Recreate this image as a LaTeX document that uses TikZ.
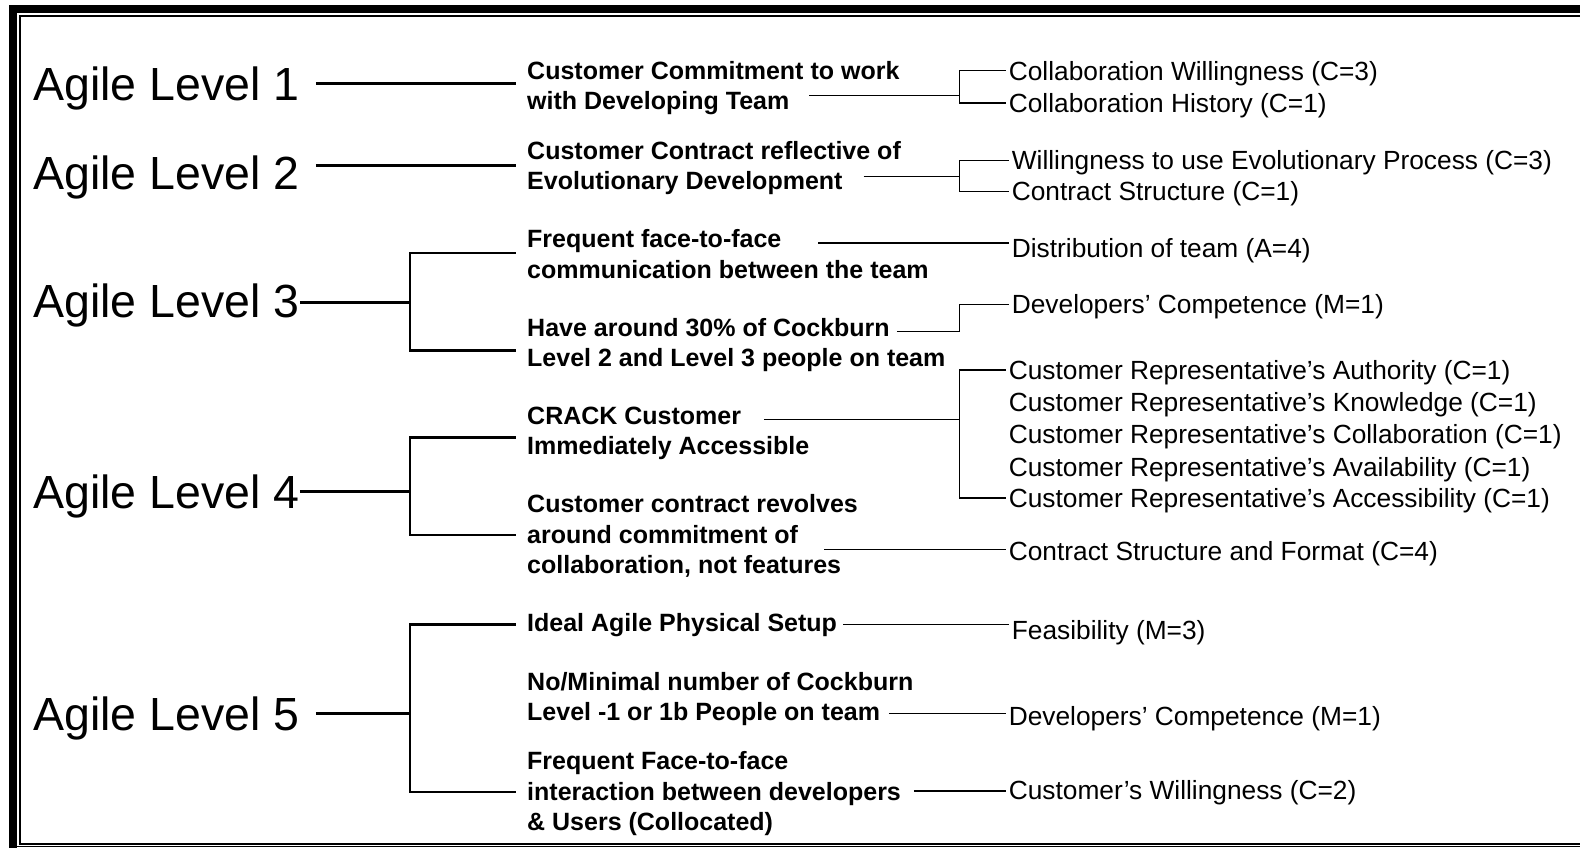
\documentclass[tikz,border=0pt]{standalone}
\usepackage{fontspec}
\setmainfont{Liberation Sans}
\newcommand{\mlines}[1]{\begin{tabular}[t]{@{}l@{}}#1\end{tabular}}
\begin{document}
\begin{tikzpicture}[x=1.0077pt,y=-1.0077pt,
  lvlnode/.style={inner sep=0pt, anchor=base west, font=\fontsize{46.5}{52}\selectfont, text height=33.3pt, text depth=0pt},
  midnode/.style={inner sep=0pt, anchor=base west, font=\fontsize{25}{30.2}\selectfont\bfseries},
  leafnode/.style={inner xsep=3pt, inner ysep=0pt, anchor=base west, font=\fontsize{26.3}{30}\selectfont, text height=18.8pt, text depth=0pt},
  thickline/.style={line width=2.6pt},
  thinline/.style={line width=1.3pt}]
\useasboundingbox (0,0) rectangle (1568,841.5);
% frame
\fill (9,5) rectangle (1568,13);
\fill (9,5) rectangle (16.6,841.5);
\draw[line width=2pt] (1568,15.6) -- (19.85,15.6) -- (19.85,837.3) -- (1568,837.3);
\draw[line width=1.3pt] (16.6,839.9) -- (1568,839.9);

% level labels
\node[lvlnode] (L1) at (33,99.6) {Agile Level 1};
\node[lvlnode] (L2) at (33,187.6) {Agile Level 2};
\node[lvlnode] (L3) at (33,314.6) {Agile Level 3};
\node[lvlnode] (L4) at (33,504.6) {Agile Level 4};
\node[lvlnode] (L5) at (33,724.6) {Agile Level 5};

% middle nodes
\node[midnode] (m1) at (523,79) {\mlines{Customer Commitment to work\\with Developing Team}};
\node[midnode] (m2) at (523,158) {\mlines{Customer Contract reflective of\\Evolutionary Development}};
\node[midnode] (m3) at (523,246) {\mlines{Frequent face-to-face\\communication between the team}};
\node[midnode] (m4) at (523,334) {\mlines{Have around 30\% of Cockburn\\Level 2 and Level 3 people on team}};
\node[midnode] (m5) at (523,421) {\mlines{CRACK Customer\\Immediately Accessible}};
\node[midnode] (m6) at (523,509) {\mlines{Customer contract revolves\\around commitment of\\collaboration, not features}};
\node[midnode] (m7) at (523,627) {\mlines{Ideal Agile Physical Setup}};
\node[midnode] (m8) at (523,685) {\mlines{No/Minimal number of Cockburn\\Level -1 or 1b People on team}};
\node[midnode] (m9) at (523,764) {\mlines{Frequent Face-to-face\\interaction between developers\\\& Users (Collocated)}};

% leaf nodes
\node[leafnode] (r1a) at (998,79.4) {Collaboration Willingness (C=3)};
\node[leafnode] (r1b) at (998,111.4) {Collaboration History (C=1)};
\node[leafnode] (r2a) at (1001,168.4) {Willingness to use Evolutionary Process (C=3)};
\node[leafnode] (r2b) at (1001,199.4) {Contract Structure (C=1)};
\node[leafnode] (r3) at (1001,255.4) {Distribution of team (A=4)};
\node[leafnode] (r4) at (1001,311.4) {Developers’ Competence (M=1)};
\node[leafnode] (r5a) at (998,376.4) {Customer Representative’s Authority (C=1)};
\node[leafnode] (r5b) at (998,408.4) {Customer Representative’s Knowledge (C=1)};
\node[leafnode] (r5c) at (998,440.4) {Customer Representative’s Collaboration (C=1)};
\node[leafnode] (r5d) at (998,472.4) {Customer Representative’s Availability (C=1)};
\node[leafnode] (r5e) at (998,503.4) {Customer Representative’s Accessibility (C=1)};
\node[leafnode] (r6) at (998,556.4) {Contract Structure and Format (C=4)};
\node[leafnode] (r7) at (1001,634.4) {Feasibility (M=3)};
\node[leafnode] (r8) at (998,720.4) {Developers’ Competence (M=1)};
\node[leafnode] (r9) at (998,793.4) {Customer’s Willingness (C=2)};

% level connectors
\coordinate (e1) at (512,83);
\draw[thickline] ([xshift=16pt]L1.east |- e1) -- (e1);
\coordinate (e2) at (512,164);
\draw[thickline] ([xshift=16pt]L2.east |- e2) -- (e2);
\coordinate (b3) at (407,300);
\coordinate (e3a) at (512,251);
\coordinate (e3b) at (512,348);
\draw[thickline] (L3.east |- b3) -- (b3);
\draw[thickline] (e3a) -| (b3) |- (e3b);
\coordinate (b4) at (407,488);
\coordinate (e4a) at (512,434);
\coordinate (e4b) at (512,531);
\draw[thickline] (L4.east |- b4) -- (b4);
\draw[thickline] (e4a) -| (b4) |- (e4b);
\coordinate (b5) at (407,708);
\coordinate (e5a) at (512,620);
\coordinate (e5b) at (512,786);
\draw[thickline] ([xshift=16pt]L5.east |- b5) -- (b5);
\draw[thickline] (e5a) -| (b5) |- (e5b);

% middle to leaf connectors
\coordinate (c1) at (803,95);
\coordinate (k1) at (952,95);
\draw[thinline] (c1) -- (k1);
\draw[thinline] (r1a.west) -| (k1) |- (r1b.west);
\coordinate (c2) at (857,175);
\coordinate (k2) at (952,175);
\draw[thinline] (c2) -- (k2);
\draw[thinline] (r2a.west) -| (k2) |- (r2b.west);
\coordinate (c3) at (812,241);
\draw[thinline] (c3) -- (c3 -| r3.west);
\coordinate (c4) at (890,329);
\coordinate (k4) at (952,329);
\draw[thinline] (c4) -- (k4) |- (r4.west);
\coordinate (c5) at (758,416);
\coordinate (k5) at (952,416);
\draw[thinline] (c5) -- (k5);
\draw[thinline] (r5a.west) -| (k5) |- (r5e.west);
\coordinate (c6) at (818,545);
\draw[thinline] (c6) -- (c6 -| r6.west);
\coordinate (c7) at (837,620);
\draw[thinline] (c7) -- (c7 -| r7.west);
\coordinate (c8) at (882,708);
\draw[thinline] (c8) -- (c8 -| r8.west);
\coordinate (c9) at (907,785);
\draw[thinline] (c9) -- (c9 -| r9.west);
\end{tikzpicture}
\end{document}
